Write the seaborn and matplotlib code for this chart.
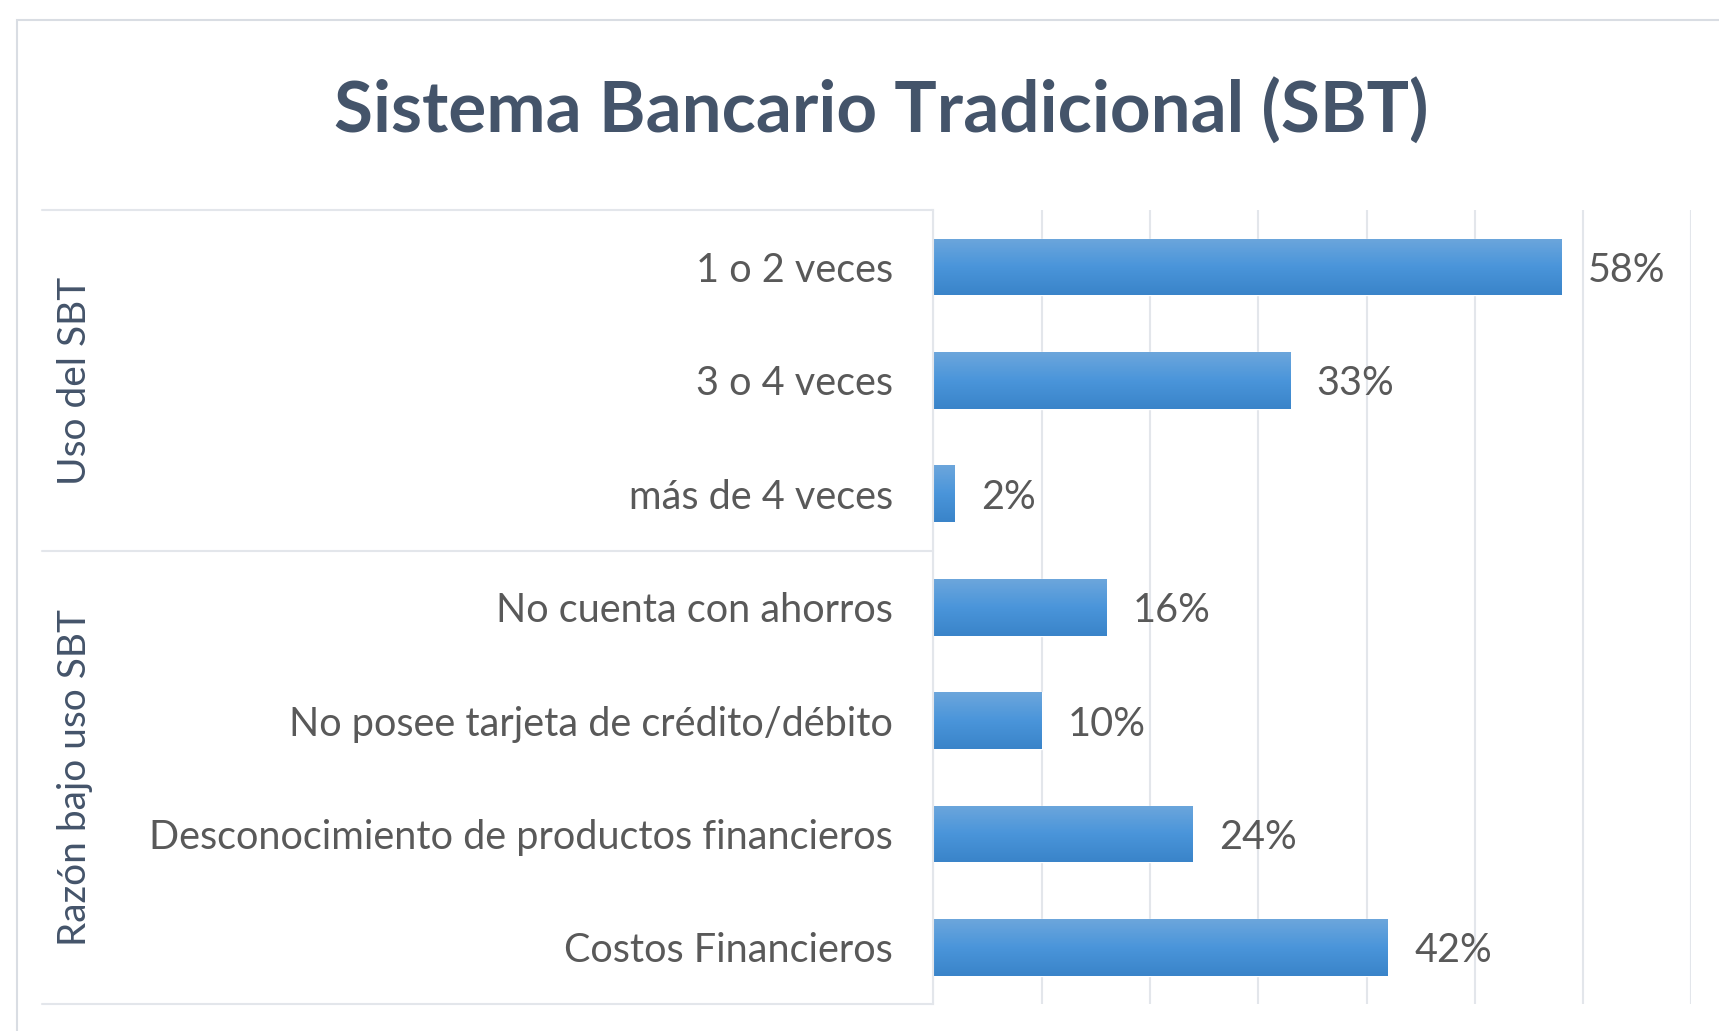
import numpy as np
import pandas as pd
import matplotlib.pyplot as plt
import matplotlib.transforms as mtransforms
from matplotlib.patches import Rectangle
from matplotlib.colors import LinearSegmentedColormap
import seaborn as sns

# ----------------------
# Data
# ----------------------
categories = ['1 o 2 veces', '3 o 4 veces', 'más de 4 veces',
              'No cuenta con ahorros', 'No posee tarjeta de crédito/débito',
              'Desconocimiento de productos financieros', 'Costos Financieros']
values = [58, 33, 2, 16, 10, 24, 42]
group_names = ['Uso del SBT', 'Razón bajo uso SBT']
group_sizes = [3, 4]
title = 'Sistema Bancario Tradicional (SBT)'

df = pd.DataFrame({'cat': categories, 'val': values})

# ----------------------
# Style
# ----------------------
sns.set_style('white')
plt.rcParams['font.family'] = ['Lato', 'DejaVu Sans']

TEXT = '#595959'
DARK = '#44546A'
GRID = '#E3E6EB'

fig = plt.figure(figsize=(17.19, 10.31), dpi=100)
ax = fig.add_axes([0.543, 0.026, 0.441, 0.770])

sns.barplot(data=df, x='val', y='cat', orient='h', ax=ax,
            color='#4A93D6', width=0.5, saturation=1)

# gradient fill on each bar (Excel-like)
cmap = LinearSegmentedColormap.from_list('g', ['#6CA6DC', '#4A95DA', '#3A84C9'])
grad = np.linspace(0, 1, 64).reshape(-1, 1)
for p in ax.patches:
    x0, y0, w, h = p.get_x(), p.get_y(), p.get_width(), p.get_height()
    im = ax.imshow(grad, cmap=cmap, aspect='auto', origin='upper',
                   extent=(x0, x0 + w, y0 + h, y0), zorder=p.get_zorder() + 0.1)
    im.set_clip_path(p)

ax.set_xlim(0, 70)
ax.set_ylim(len(categories) - 0.5, -0.5)
ax.set_xticks(np.arange(0, 71, 10))
ax.set_xticklabels([])
ax.xaxis.grid(True, color=GRID, linewidth=1.5)
ax.set_axisbelow(True)
ax.set_xlabel('')
ax.set_ylabel('')
for s in ['top', 'right', 'bottom']:
    ax.spines[s].set_visible(False)
ax.spines['left'].set_color(GRID)
ax.spines['left'].set_linewidth(1.5)
ax.tick_params(axis='y', length=0, pad=29, labelsize=28.5, labelcolor=TEXT)
ax.tick_params(axis='x', length=0)

# value labels
for i, v in enumerate(values):
    ax.text(v + 2.4, i, f'{v}%', va='center_baseline', ha='left',
            fontsize=28.5, color=TEXT)

# group boxes on the category axis
trans = mtransforms.blended_transform_factory(fig.transFigure, ax.transData)
x_left = 42 / 1719
x_axis = 0.543
bounds = np.concatenate([[0], np.cumsum(group_sizes)]) - 0.5
for b in bounds:
    ax.plot([x_left, x_axis], [b, b], transform=trans, color=GRID,
            linewidth=1.5, clip_on=False)
for name, lo, hi in zip(group_names, bounds[:-1], bounds[1:]):
    ax.text(75 / 1719, (lo + hi) / 2, name, transform=trans, rotation=90,
            ha='center', va='center', fontsize=28, color=DARK)

# chart border
fig.patches.append(Rectangle((17 / 1719, -0.1), 1.2, 1 - 20 / 1031 + 0.1,
                             transform=fig.transFigure, fill=False,
                             edgecolor='#D9DDE3', linewidth=1.5))

fig.text(0.5125, 0.893, title, ha='center', va='center', fontsize=51,
         fontweight='bold', color=DARK)

fig.savefig('out.png', dpi=100)
